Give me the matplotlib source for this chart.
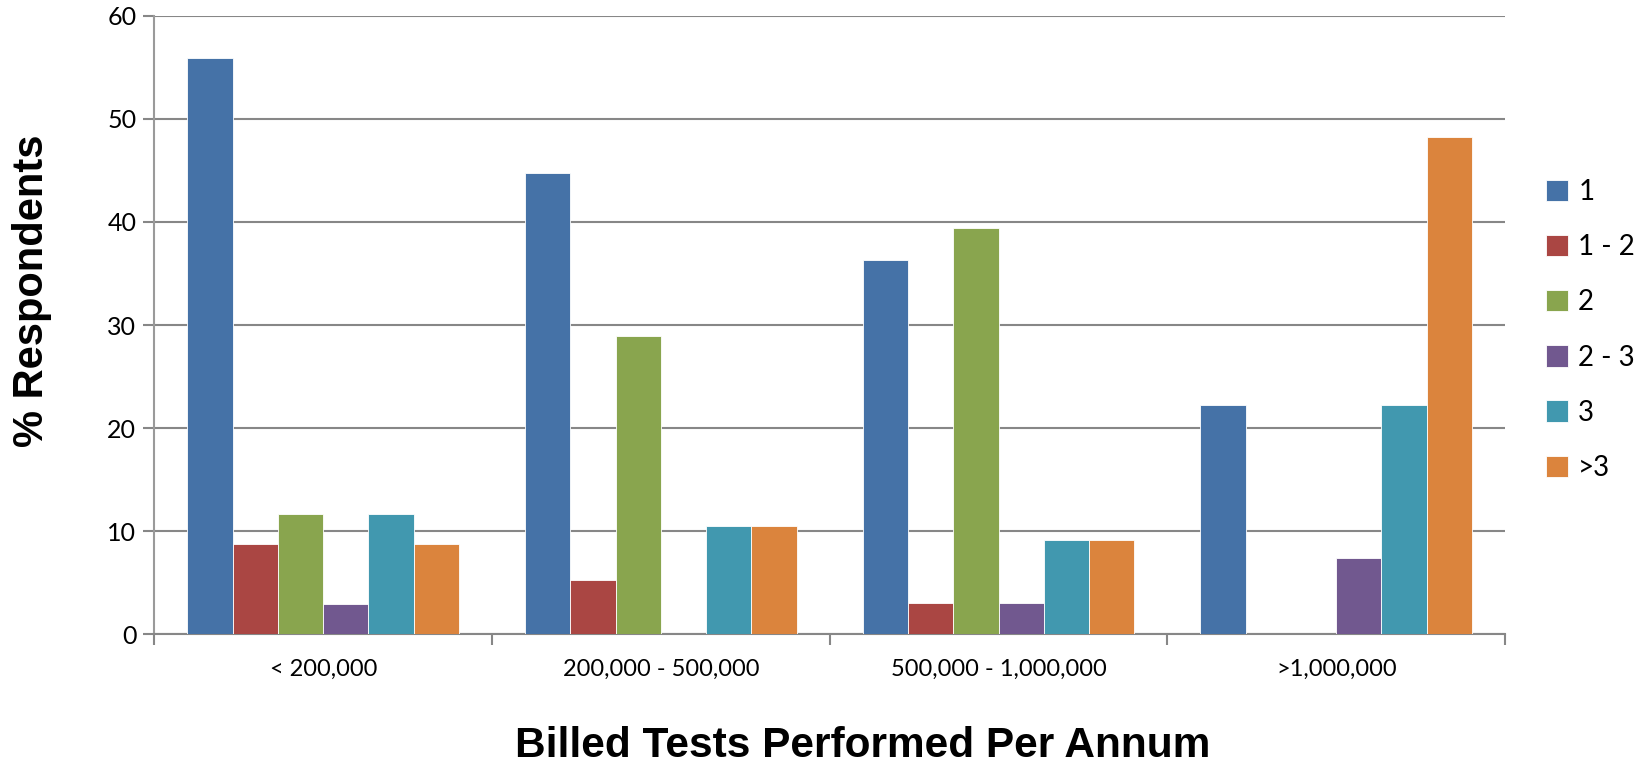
import numpy as np
import matplotlib
matplotlib.use('Agg')
import matplotlib.pyplot as plt

# datos
categorias = ['< 200,000', '200,000 - 500,000', '500,000 - 1,000,000', '>1,000,000']
series = ['1', '1 - 2', '2', '2 - 3', '3', '>3']
v_1 = [55.9, 44.7, 36.3, 22.2]
v_1_2 = [8.8, 5.3, 3.0, 0]
v_2 = [11.7, 28.9, 39.4, 0]
v_2_3 = [2.9, 0, 3.0, 7.4]
v_3 = [11.7, 10.5, 9.1, 22.2]
v_mas3 = [8.8, 10.5, 9.1, 48.2]
colores = ['#4572A7', '#AA4643', '#89A54E', '#71588F', '#4198AF', '#DB843D']

valores = [v_1, v_1_2, v_2, v_2_3, v_3, v_mas3]

fig = plt.figure(figsize=(16.37, 7.64), dpi=100)
ax = fig.add_axes([0.0943, 0.1698, 0.8251, 0.8096])

x = np.arange(len(categorias))
ancho = 0.134
for i, (nombre, vals) in enumerate(zip(series, valores)):
    ax.bar(x + (i - 2.5) * ancho, vals, ancho, color=colores[i], label=nombre,
           edgecolor='white', linewidth=0.6, zorder=3)

ax.set_xlim(-0.5, 3.5)
ax.set_ylim(0, 60)
ax.set_yticks(np.arange(0, 61, 10))
ax.yaxis.grid(True, color='#878787', linewidth=1.5, zorder=0)
ax.set_axisbelow(True)

ax.set_xticks(x)
ax.set_xticklabels(categorias, fontsize=17, family='Lato')
ax.set_xticks(np.arange(-0.5, 3.6, 1), minor=True)
ax.tick_params(axis='x', which='major', length=0, pad=18)
ax.tick_params(axis='x', which='minor', length=8, color='#878787', width=1.5)
ax.tick_params(axis='y', length=8, color='#878787', width=1.5, pad=5)
for t in ax.get_yticklabels():
    t.set_fontsize(18)
    t.set_family('Lato')

for lado in ['top', 'right']:
    ax.spines[lado].set_visible(False)
ax.spines['left'].set_color('#9a9a9a')
ax.spines['left'].set_linewidth(1.5)
ax.spines['bottom'].set_color('#878787')
ax.spines['bottom'].set_linewidth(1.5)

ax.set_ylabel('% Respondents', fontsize=30, fontweight='bold',
              family=['Liberation Sans', 'DejaVu Sans'])
ax.yaxis.set_label_coords(-0.076, 0.556)
fig.text(0.527, 0.0095, 'Billed Tests Performed Per Annum', fontsize=30.5, fontweight='bold',
         family=['Liberation Sans Narrow', 'Liberation Sans'], ha='center', va='baseline')

ley = ax.legend(loc='center left', bbox_to_anchor=(1.012, 0.492), frameon=False,
                prop={'family': 'Lato', 'size': 20}, handlelength=0.8, handleheight=0.8,
                handletextpad=0.35, labelspacing=1.05)

fig.savefig('out.png', dpi=100)
